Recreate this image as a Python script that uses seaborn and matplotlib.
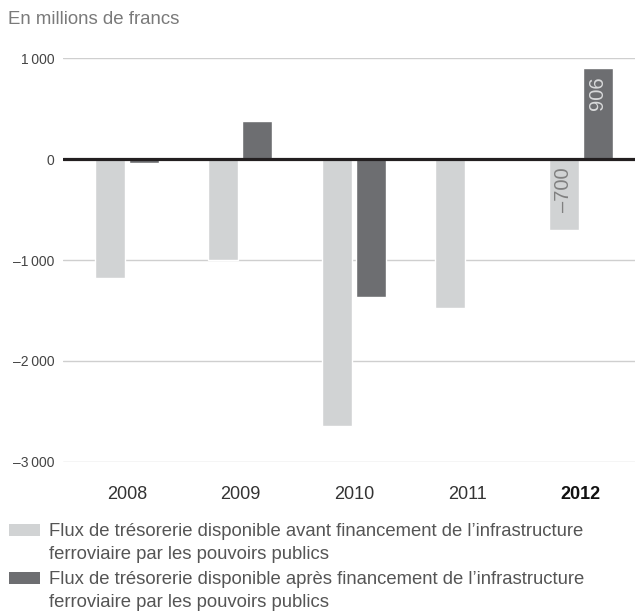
import matplotlib
matplotlib.use("Agg")
import matplotlib.pyplot as plt
from matplotlib.patches import Rectangle
import seaborn as sns
import pandas as pd

# Données (en millions de francs)
years = ["2008", "2009", "2010", "2011", "2012"]
avant = [-1180, -1000, -2650, -1480, -700]
apres = [-40, 380, -1370, 0, 906]
series = [
    "Flux de trésorerie disponible avant financement de l’infrastructure\nferroviaire par les pouvoirs publics",
    "Flux de trésorerie disponible après financement de l’infrastructure\nferroviaire par les pouvoirs publics",
]
yticks = [1000, 0, -1000, -2000, -3000]
ytick_labels = ["1\u2009000", "0", "–1\u2009000", "–2\u2009000", "–3\u2009000"]
colors = ["#d1d3d4", "#6d6e71"]

df = pd.DataFrame({
    "Année": years * 2,
    "Valeur": avant + apres,
    "Série": [series[0]] * len(years) + [series[1]] * len(years),
})

sns.set_theme(style="white")
plt.rcParams["font.family"] = ["Liberation Sans", "DejaVu Sans"]

W, H = 635, 612
fig = plt.figure(figsize=(W / 100, H / 100), dpi=100)
ax_left, ax_top, ax_bottom = 62.7, 58.3, 461.7
ax = fig.add_axes([ax_left / W, 1 - ax_bottom / H, 1 - ax_left / W, (ax_bottom - ax_top) / H])

sns.barplot(data=df, x="Année", y="Valeur", hue="Série", order=years, hue_order=series,
            palette=colors, width=0.6, gap=0.12, saturation=1, legend=False, ax=ax, zorder=2)

ax.set_ylim(-3000, 1000)
ax.set_xlim(-0.567, 4.48)
for s in ax.spines.values():
    s.set_visible(False)

# Lignes de grille et ligne du zéro
for v in yticks:
    if v == 0:
        ax.axhline(0, color="#231f20", lw=2.3, zorder=3)
    else:
        ax.axhline(v, color="#cfcfcf", lw=1.0, zorder=0)

ax.set_yticks(yticks)
ax.set_yticklabels(ytick_labels, fontsize=10, color="#444444")
ax.tick_params(axis="y", length=0, pad=6)
ax.set_xticks(range(len(years)))
ax.set_xticklabels(years, fontsize=13, color="#333333")
ax.tick_params(axis="x", length=0, pad=17.5)
last = ax.get_xticklabels()[-1]
last.set_fontweight("bold")
last.set_color("#111111")
ax.set_xlabel("")
ax.set_ylabel("")

# Valeurs 2012
b_av = ax.containers[0][-1]
b_ap = ax.containers[1][-1]
ax.text(b_ap.get_x() + b_ap.get_width() / 2, apres[-1] - 90, f"{apres[-1]}",
        rotation=90, ha="center", va="top", fontsize=14.5, color="#d8d9da", zorder=4)
ax.text(b_av.get_x() + b_av.get_width() / 2, -80, f"–{abs(avant[-1])}",
        rotation=90, ha="center", va="top", fontsize=14.5, color="#808080", zorder=4)

# Titre
fig.text(8 / W, 1 - 20 / H, "En millions de francs", fontsize=13.4, color="#7a7a7a",
         ha="left", va="center")

# Légende : un carré par série, texte sur deux lignes
for i, (lab, col) in enumerate(zip(series, colors)):
    yc = 530 + i * 47.5
    fig.patches.append(Rectangle((9 / W, 1 - (yc + 6) / H), 31 / W, 12 / H,
                                 transform=fig.transFigure, facecolor=col, edgecolor="none"))
    for j, line in enumerate(lab.split("\n")):
        base = yc + 6 + j * 23.3
        fig.text(49 / W, 1 - base / H, line, fontsize=13.3, color="#555555",
                 ha="left", va="baseline")

fig.savefig("out.png", dpi=100)
